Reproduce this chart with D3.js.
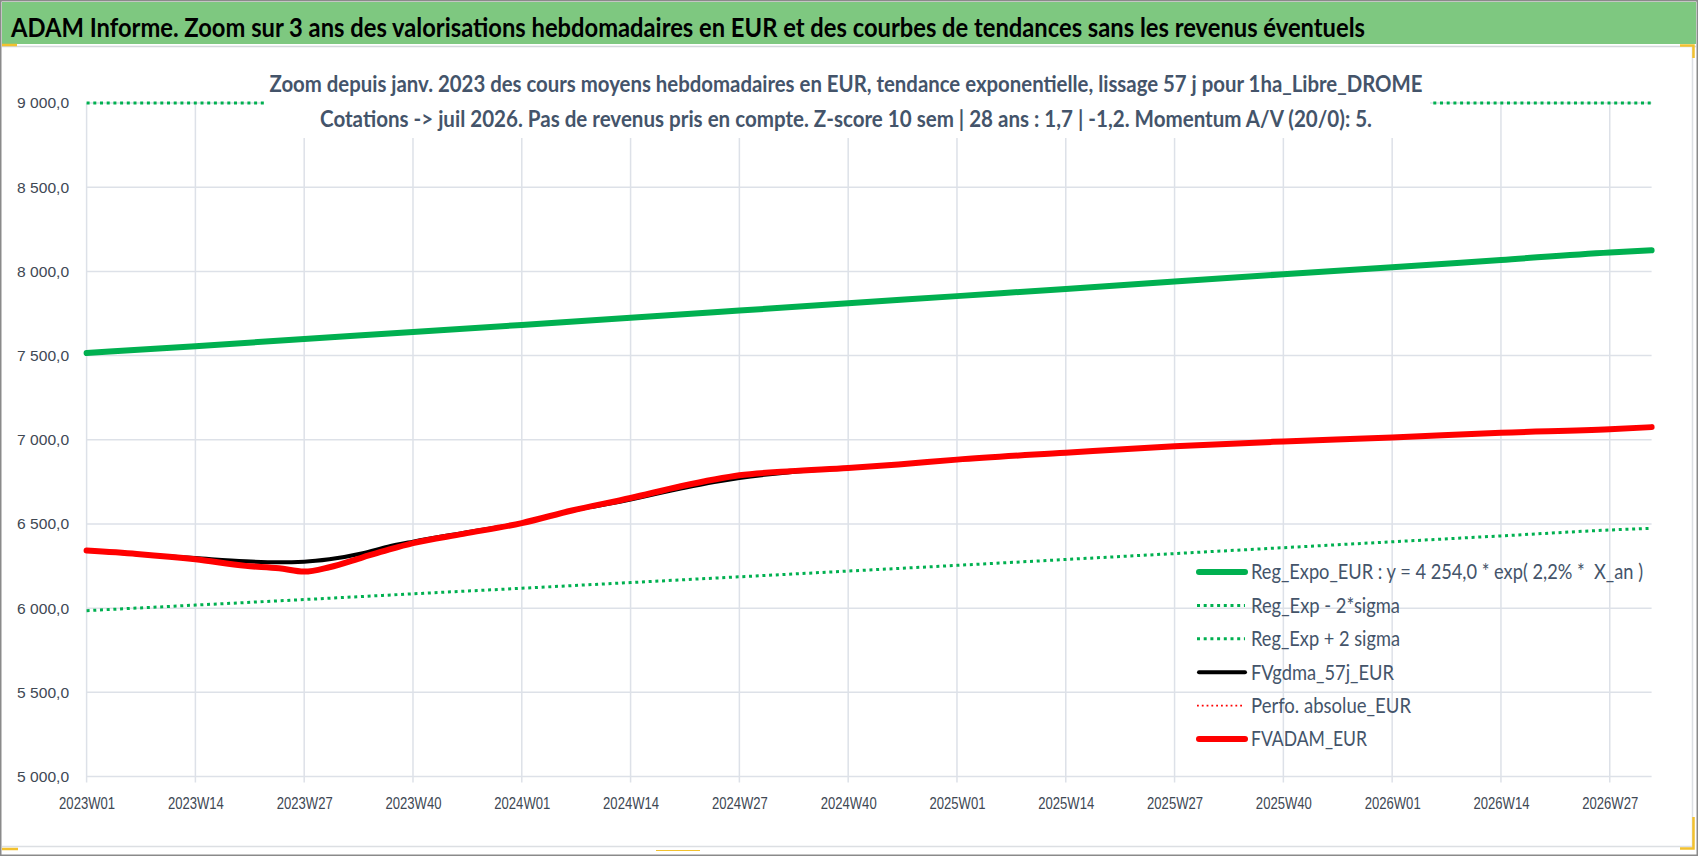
<!DOCTYPE html>
<html>
<head>
<meta charset="utf-8">
<script src="https://cdn.jsdelivr.net/npm/d3@7"></script>
<style>
  body { margin: 0; background: #fff; }
  svg { display: block; }
</style>
</head>
<body>
<div id="chart"></div>
<script>
let title = 'ADAM Informe. Zoom sur 3 ans des valorisations hebdomadaires en EUR et des courbes de tendances sans les revenus éventuels'
let subtitle = [
  'Zoom depuis janv. 2023 des cours moyens hebdomadaires en EUR, tendance exponentielle, lissage 57 j pour 1ha_Libre_DROME',
  'Cotations -> juil 2026. Pas de revenus pris en compte. Z-score 10 sem | 28 ans : 1,7 | -1,2. Momentum A/V (20/0): 5.'
]

let tickLabels = ['2023W01', '2023W14', '2023W27', '2023W40', '2024W01', '2024W14', '2024W27', '2024W40',
  '2025W01', '2025W14', '2025W27', '2025W40', '2026W01', '2026W14', '2026W27']
let lastWeek = '2026W32'
let yTicks = [5000, 5500, 6000, 6500, 7000, 7500, 8000, 8500, 9000]

// trend curves, read at each labelled week + last week
let trendWeeks = tickLabels.concat([lastWeek])
let regExpo = [7515, 7556, 7598, 7640, 7682, 7724, 7767, 7810, 7853, 7896, 7940, 7983, 8024, 8068, 8112, 8125]
let regMinus = [5985, 6018, 6051, 6085, 6118, 6152, 6186, 6220, 6254, 6289, 6324, 6359, 6394, 6429, 6464, 6474]
let regPlus = [9045, 9094, 9145, 9195, 9246, 9296, 9348, 9400, 9452, 9503, 9556, 9607, 9660, 9713, 9766, 9780]

// weekly valuations, read at sample weeks
let sampleWeeks = ['2023W01', '2023W07', '2023W14', '2023W20', '2023W24', '2023W27', '2023W30', '2023W34', '2023W37',
  '2023W40', '2023W46', '2024W01', '2024W07', '2024W14', '2024W20', '2024W24', '2024W27', '2024W33', '2024W40',
  '2024W46', '2025W01', '2025W14', '2025W27', '2025W40', '2026W01', '2026W14', '2026W27', '2026W32']
let fvadam = [6342, 6322, 6290, 6251, 6237, 6217, 6243, 6302, 6346, 6386, 6441, 6505, 6580, 6654, 6724, 6764, 6789,
  6813, 6832, 6853, 6882, 6923, 6962, 6990, 7013, 7042, 7062, 7075]
let fvgdma = [6342, 6320, 6297, 6278, 6273, 6276, 6290, 6326, 6365, 6395, 6447, 6505, 6578, 6645, 6710, 6749, 6773,
  6807, 6832, 6853, 6882, 6923, 6962, 6990, 7013, 7042, 7062, 7075]
let perfo = fvadam

let legendLabels = ['Reg_Expo_EUR : y = 4 254,0 * exp( 2,2% *  X_an )', 'Reg_Exp - 2*sigma', 'Reg_Exp + 2 sigma',
  'FVgdma_57j_EUR', 'Perfo. absolue_EUR', 'FVADAM_EUR']

let width = 1698
let height = 856
let margin = { top: 103, left: 86.6, right: 46.4, bottom: 79.5 }

let green = '#00b050'
let red = '#ff0000'
let grid = '#dde1e8'
let slate = '#44546a'

let categories = []
d3.range(2023, 2027).forEach(yr => {
  let last = yr === 2026 ? +lastWeek.slice(5) : 52
  d3.range(1, last + 1).forEach(w => categories.push(`${yr}W${String(w).padStart(2, '0')}`))
})

let fr = d3.formatLocale({ decimal: ',', thousands: '\u00a0', grouping: [3], currency: ['', ' €'] })
let fmt = fr.format(',.1f')

let x = d3.scalePoint().domain(categories).range([margin.left, width - margin.right])
let y = d3.scaleLinear().domain([5000, 9000]).range([height - margin.bottom, margin.top]).clamp(true)

let svg = d3.select('#chart')
  .append('svg')
  .attr('width', width)
  .attr('height', height)
  .style('font-family', 'Lato, "Open Sans", sans-serif')

// frame + title band
svg.append('rect').attr('x', 0.75).attr('y', 0.75).attr('width', width - 1.5).attr('height', height - 1.5)
  .attr('fill', '#fff').attr('stroke', '#8a8a8a').attr('stroke-width', 1.5)
svg.append('rect').attr('x', 2).attr('y', 2).attr('width', width - 4).attr('height', 42).attr('fill', '#7ec880')
svg.append('path').attr('d', `M2,46.5H${width - 2}`).attr('stroke', '#d4d8dc').attr('stroke-width', 1.5)
svg.append('path').attr('d', `M1692.5,47V846.5H2`).attr('fill', 'none').attr('stroke', '#dcdfe3').attr('stroke-width', 1.5)

svg.append('text')
  .attr('x', 11)
  .attr('y', 37)
  .attr('font-size', 26)
  .attr('font-weight', 'bold')
  .attr('fill', '#000')
  .attr('textLength', 1354)
  .attr('lengthAdjust', 'spacingAndGlyphs')
  .text(title)

// excel selection marks
let marks = ['M2,45H17', 'M1680,45.5H1693.5V58', 'M1693.5,817V848.5H1680', 'M2,849H18', 'M656,850.5H700']
svg.selectAll('.mark')
  .data(marks)
  .enter()
  .append('path')
  .attr('d', d => d)
  .attr('fill', 'none')
  .attr('stroke', '#f2c12e')
  .attr('stroke-width', (d, i) => i === 4 ? 1.2 : 2.5)

// grid
svg.append('g')
  .selectAll('line')
  .data(yTicks)
  .enter()
  .append('line')
  .attr('x1', margin.left)
  .attr('x2', width - margin.right)
  .attr('y1', d => y(d))
  .attr('y2', d => y(d))
  .attr('stroke', grid)
  .attr('stroke-width', 1.5)

svg.append('g')
  .selectAll('line')
  .data(tickLabels)
  .enter()
  .append('line')
  .attr('x1', d => x(d))
  .attr('x2', d => x(d))
  .attr('y1', margin.top)
  .attr('y2', height - margin.bottom + 6)
  .attr('stroke', grid)
  .attr('stroke-width', 1.5)

let xAxis = svg.append('g')
  .attr('transform', `translate(0,${height - margin.bottom})`)
  .call(d3.axisBottom(x).tickValues(tickLabels).tickSize(0).tickPadding(21))
xAxis.select('.domain').remove()
xAxis.selectAll('text')
  .attr('font-size', 16.5)
  .attr('fill', '#404854')
  .attr('textLength', 56)
  .attr('lengthAdjust', 'spacingAndGlyphs')

let yAxis = svg.append('g')
  .attr('transform', `translate(${margin.left},0)`)
  .call(d3.axisLeft(y).tickValues(yTicks).tickSize(0).tickPadding(17.5).tickFormat(fmt))
yAxis.select('.domain').remove()
yAxis.selectAll('text')
  .attr('font-size', 15.5)
  .attr('fill', '#404854')
  .attr('textLength', 52)
  .attr('lengthAdjust', 'spacingAndGlyphs')

// series
let line = d3.line()
  .x(d => x(d.week))
  .y(d => y(d.value))
  .curve(d3.curveMonotoneX)

let series = [
  { weeks: trendWeeks, values: regPlus, color: green, w: 3, dash: '3,3.7' },
  { weeks: trendWeeks, values: regMinus, color: green, w: 3, dash: '3,3.7' },
  { weeks: trendWeeks, values: regExpo, color: green, w: 6, dash: null },
  { weeks: sampleWeeks, values: perfo, color: red, w: 1.8, dash: '1.8,3' },
  { weeks: sampleWeeks, values: fvgdma, color: '#000', w: 4, dash: null },
  { weeks: sampleWeeks, values: fvadam, color: red, w: 6, dash: null }
]

svg.append('g')
  .selectAll('path')
  .data(series)
  .enter()
  .append('path')
  .attr('d', s => line(s.weeks.map((wk, i) => ({ week: wk, value: s.values[i] }))))
  .attr('fill', 'none')
  .attr('stroke', s => s.color)
  .attr('stroke-width', s => s.w)
  .attr('stroke-dasharray', s => s.dash)
  .attr('stroke-linejoin', 'round')
  .attr('stroke-linecap', s => s.dash ? 'butt' : 'round')

// chart title box
let tbox = svg.append('g')
tbox.append('rect')
  .attr('x', 264)
  .attr('y', 58)
  .attr('width', 1166)
  .attr('height', 80)
  .attr('fill', '#fff')

tbox.selectAll('text')
  .data(subtitle)
  .enter()
  .append('text')
  .attr('x', 846)
  .attr('y', (d, i) => 92 + i * 35)
  .attr('text-anchor', 'middle')
  .attr('font-size', 22.5)
  .attr('font-weight', 'bold')
  .attr('fill', slate)
  .attr('textLength', (d, i) => i === 0 ? 1153 : 1052)
  .attr('lengthAdjust', 'spacingAndGlyphs')
  .text(d => d)

// legend
let legendStyle = [
  { color: green, w: 6, dash: null, len: 392 },
  { color: green, w: 3, dash: '3,3.7', len: 149 },
  { color: green, w: 3, dash: '3,3.7', len: 149 },
  { color: '#000', w: 4, dash: null, len: 143 },
  { color: red, w: 1.8, dash: '1.8,3', len: 160 },
  { color: red, w: 6, dash: null, len: 116 }
]

let legend = svg.append('g')
  .selectAll('g')
  .data(legendLabels)
  .enter()
  .append('g')
  .attr('transform', (d, i) => `translate(1197,${572 + i * 33.4})`)

legend.append('line')
  .attr('x1', (d, i) => legendStyle[i].dash ? 0 : 2)
  .attr('x2', 48)
  .attr('stroke', (d, i) => legendStyle[i].color)
  .attr('stroke-width', (d, i) => legendStyle[i].w)
  .attr('stroke-dasharray', (d, i) => legendStyle[i].dash)
  .attr('stroke-linecap', (d, i) => legendStyle[i].dash ? 'butt' : 'round')

legend.append('text')
  .attr('x', 54)
  .attr('dy', '0.35em')
  .attr('font-size', 21)
  .attr('fill', slate)
  .style('white-space', 'pre')
  .attr('textLength', (d, i) => legendStyle[i].len)
  .attr('lengthAdjust', 'spacingAndGlyphs')
  .text(d => d)
</script>
</body>
</html>
